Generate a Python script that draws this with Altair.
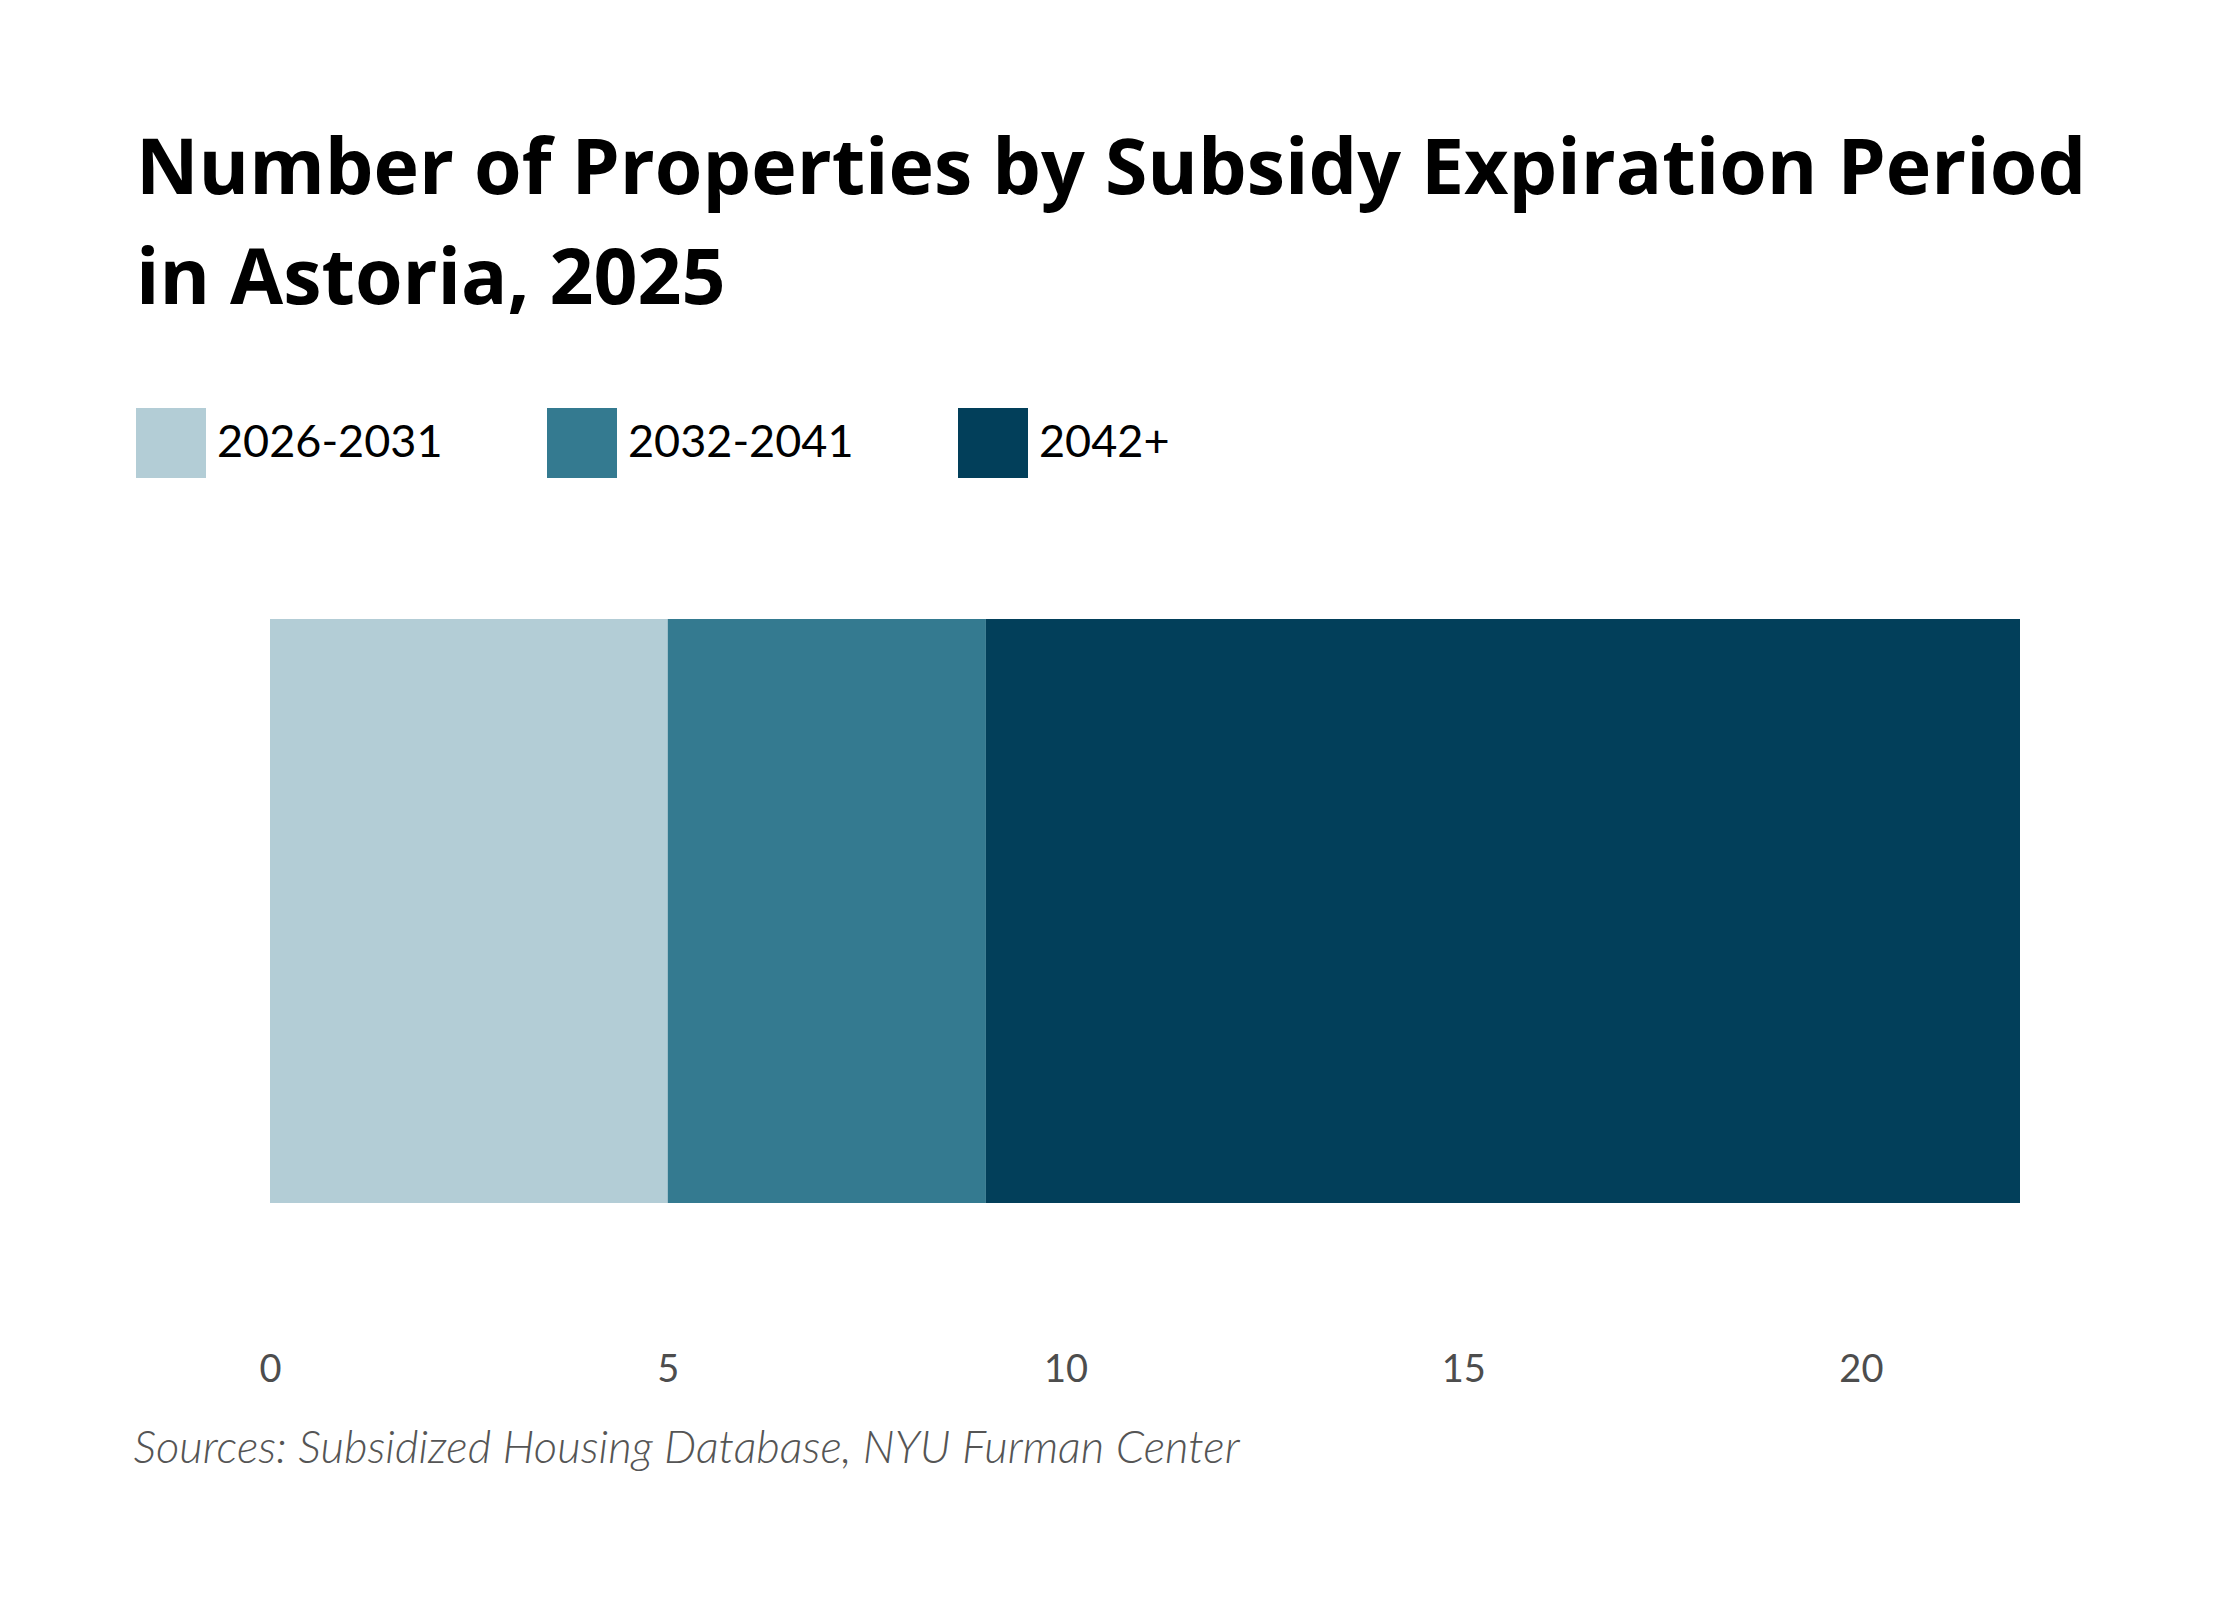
import altair as alt
import pandas as pd

periods = ["2026-2031", "2032-2041", "2042+"]
counts = [5, 4, 13]
order_idx = [0, 1, 2]
colors = ["#b3cdd6", "#347a90", "#023f5a"]
x_ticks = [0, 5, 10, 15, 20]
title_lines = ["Number of Properties by Subsidy Expiration Period", "in Astoria, 2025"]
source_text = "Sources: Subsidized Housing Database, NYU Furman Center"

df = pd.DataFrame({"period": periods, "count": counts, "ord": order_idx, "row": ["Astoria"] * 3})

FONT = "Lato"
TITLE_FONT = "Open Sans"

chart = alt.Chart(df).mark_bar(size=584).encode(
    x=alt.X("count:Q", stack="zero",
            scale=alt.Scale(domain=[0, 22], nice=False, zero=True),
            axis=alt.Axis(values=x_ticks, grid=False, domain=False, ticks=False,
                          labelFlush=False,
                          labelFont=FONT, labelFontSize=38, labelColor="#4d4d4d",
                          labelPadding=80, labelBaseline="top",
                          title=source_text, titleFont=FONT, titleFontSize=45.5,
                          titleFontStyle="italic", titleFontWeight=300, titleColor="#555555",
                          titleAnchor="start", titleAlign="left", titleBaseline="alphabetic",
                          titleX=-137, titleY=191)),
    y=alt.Y("row:N", axis=None),
    color=alt.Color("period:N",
                    scale=alt.Scale(domain=periods, range=colors),
                    legend=alt.Legend(title=None, orient="none", legendX=-134, legendY=-143,
                                      direction="horizontal", columns=3, gridAlign="all",
                                      symbolType="square", symbolSize=4900, symbolStrokeWidth=0,
                                      symbolOpacity=1,
                                      labelFont=FONT, labelFontSize=45, labelColor="#000000",
                                      labelOffset=11, columnPadding=104, labelLimit=400)),
    order=alt.Order("ord:Q"),
).properties(
    width=1750,
    height=720,
    title=alt.TitleParams(title_lines, anchor="start", frame="group", font=TITLE_FONT,
                          fontSize=77, fontWeight="bold", color="#000000",
                          lineHeight=110, dx=-134, dy=32, offset=120),
    padding={"left": 262, "right": 212, "top": 543, "bottom": 321},
    autosize=alt.AutoSizeParams(type="none"),
    background="white",
).configure_view(stroke=None)

chart.save("out.html", embed_options={"renderer": "svg", "actions": False})
